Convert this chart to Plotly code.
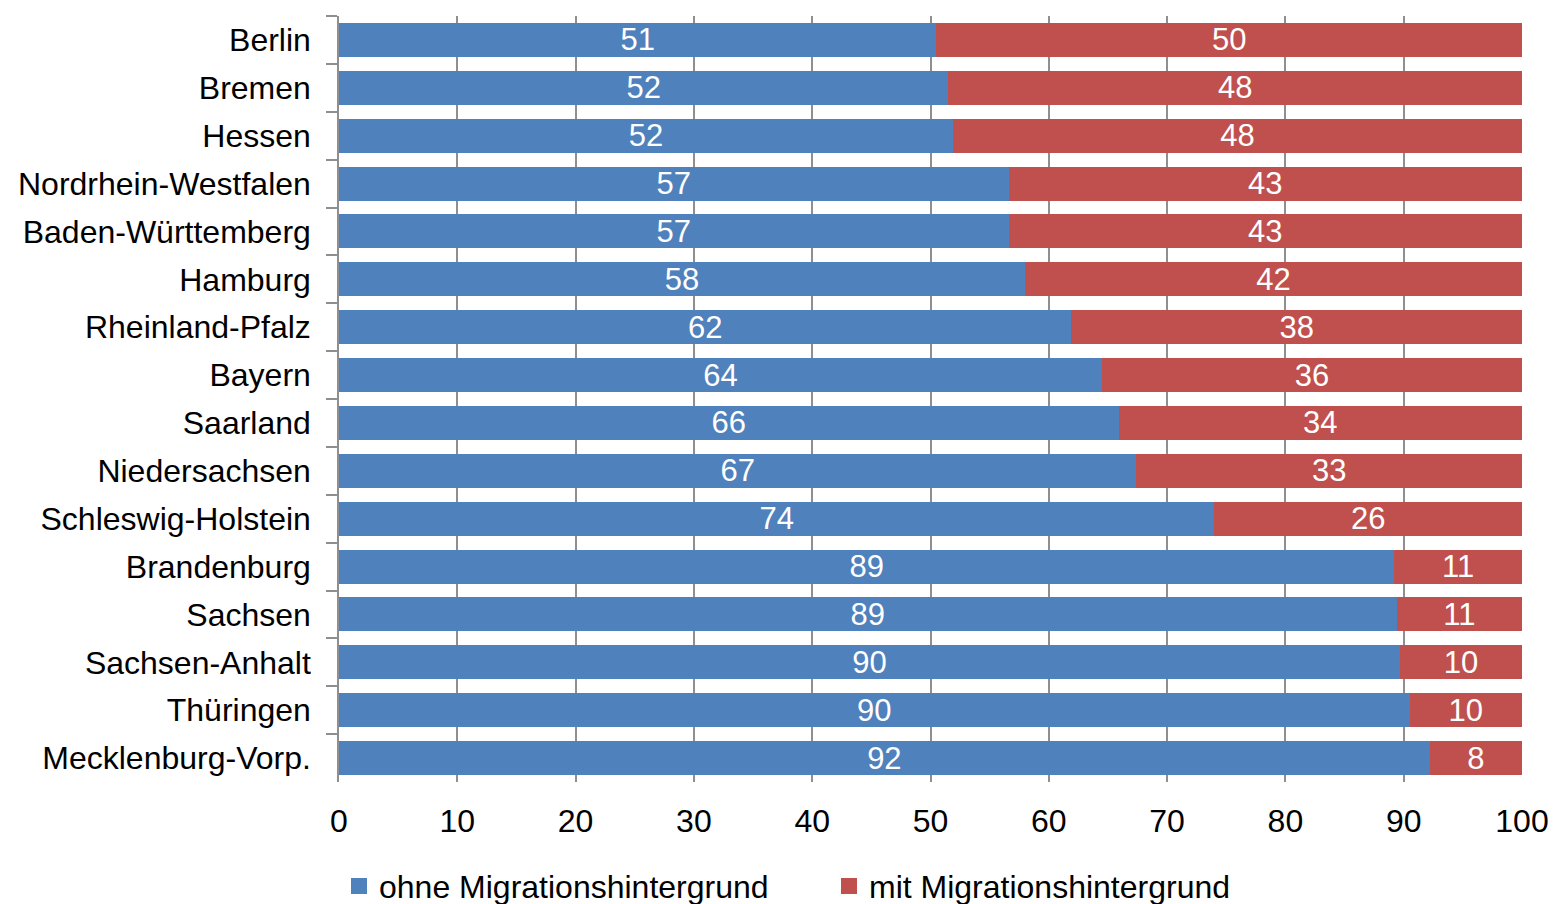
import plotly.graph_objects as go

states = ["Berlin", "Bremen", "Hessen", "Nordrhein-Westfalen", "Baden-Württemberg",
          "Hamburg", "Rheinland-Pfalz", "Bayern", "Saarland", "Niedersachsen",
          "Schleswig-Holstein", "Brandenburg", "Sachsen", "Sachsen-Anhalt",
          "Thüringen", "Mecklenburg-Vorp."]
ohne = [50.5, 51.5, 51.9, 56.6, 56.6, 58.0, 61.9, 64.5, 65.9, 67.4, 74.0,
        89.2, 89.4, 89.7, 90.5, 92.2]
mit = [49.5, 48.5, 48.1, 43.4, 43.4, 42.0, 38.1, 35.5, 34.1, 32.6, 26.0,
       10.8, 10.6, 10.3, 9.5, 7.8]
ohne_labels = ["51", "52", "52", "57", "57", "58", "62", "64", "66", "67", "74",
               "89", "89", "90", "90", "92"]
mit_labels = ["50", "48", "48", "43", "43", "42", "38", "36", "34", "33", "26",
              "11", "11", "10", "10", "8"]
x_ticks = [0, 10, 20, 30, 40, 50, 60, 70, 80, 90, 100]
series_names = ["ohne Migrationshintergrund", "mit Migrationshintergrund"]
series_colors = ["#4F81BD", "#C0504D"]

FONT = "Liberation Sans, Arial, sans-serif"
GRID = "#8f8f8f"
AXFS = 32

fig = go.Figure()
for vals, labels, name, color in [(ohne, ohne_labels, series_names[0], series_colors[0]),
                                  (mit, mit_labels, series_names[1], series_colors[1])]:
    fig.add_trace(go.Bar(
        y=states, x=vals, orientation="h", name=name, showlegend=False,
        marker=dict(color=color, line=dict(width=0)),
        text=labels, textposition="inside", insidetextanchor="middle",
        constraintext="none", textangle=0,
        textfont=dict(color="white", size=31, family=FONT),
    ))

# legend entries with larger square markers
for name, color in zip(series_names, series_colors):
    fig.add_trace(go.Scatter(
        x=[None], y=[None], mode="markers", name=name,
        marker=dict(symbol="square", size=16, color=color),
        showlegend=True,
    ))

fig.update_layout(
    width=1554, height=904,
    barmode="stack", bargap=0.29,
    plot_bgcolor="white", paper_bgcolor="white",
    margin=dict(l=339, r=32, t=16, b=122, autoexpand=False),
    font=dict(family=FONT, size=AXFS, color="black"),
    xaxis=dict(
        range=[0, 100], tickvals=x_ticks, ticktext=[str(v) for v in x_ticks],
        showgrid=True, gridcolor=GRID, gridwidth=1.5,
        showline=False, zeroline=False, ticks="", ticklabelstandoff=17,
        tickfont=dict(size=AXFS, family=FONT),
    ),
    xaxis2=dict(
        overlaying="x", matches="x", side="top", anchor="y",
        range=[0, 100], tickvals=x_ticks, showticklabels=False,
        showgrid=False, zeroline=False,
        showline=True, linecolor=GRID, linewidth=1.5,
        ticks="outside", ticklen=8, tickcolor=GRID, tickwidth=1.5,
    ),
    yaxis=dict(
        autorange="reversed", showline=True, linecolor=GRID, linewidth=1.5,
        ticks="outside", tickson="boundaries", ticklen=11, tickcolor=GRID,
        tickwidth=1.5, showgrid=False, zeroline=False,
        ticklabelstandoff=20, tickfont=dict(size=AXFS, family=FONT),
    ),
    legend=dict(
        orientation="h", x=0.0, xanchor="left", y=-0.1, yanchor="top",
        traceorder="normal",
        entrywidth=445, entrywidthmode="pixels",
        font=dict(size=AXFS, family=FONT), itemsizing="trace",
        bgcolor="rgba(0,0,0,0)",
    ),
)

fig.write_html("out.html")
